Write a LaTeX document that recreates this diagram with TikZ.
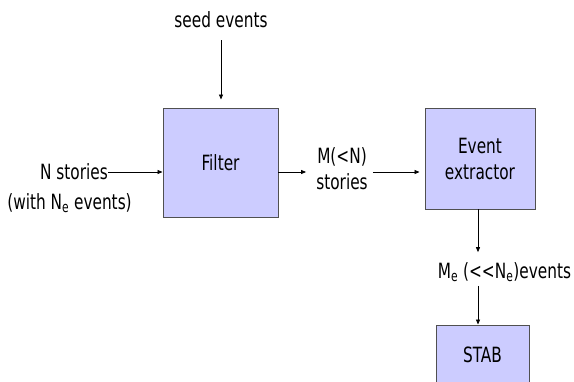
\documentclass[tikz,border=0pt]{standalone}
\usepackage{fontspec}
\setmainfont{DejaVu Sans}[FakeStretch=0.73]
\usetikzlibrary{arrows.meta}

\definecolor{boxfill}{RGB}{204,204,255}
\definecolor{boxline}{RGB}{80,80,80}

\tikzset{
	blk/.style={draw=boxline, fill=boxfill, line width=0.9pt, align=center, inner sep=0pt},
	lbl/.style={inner sep=0pt, align=center},
	arr/.style={-{Triangle[length=5pt,width=4pt]}, line width=0.8pt}}
\tikzset{every picture/.style={font=\fontsize{21}{26}\selectfont}}

\begin{document}
\begin{tikzpicture}[x=1pt,y=1pt,yscale=-1,xscale=1]
	\useasboundingbox (0,0) rectangle (574,381);

	% Blocks
	\node[blk, minimum width=115pt, minimum height=109pt] (filter) at (220.5,162.5) {Filter};
	\node[blk, minimum width=110pt, minimum height=101pt] (extr) at (480,158.5) {Event\\extractor};
	\node[blk, minimum width=93pt, minimum height=60pt] (stab) at (482.5,355) {STAB};

	% Text Nodes
	\node[lbl] (seed) at (221,20) {seed events};
	\node[lbl, anchor=east] (nst) at (108,172) {N stories};
	\node[lbl] (with) at (69.5,203) {(with N\textsubscript{e} events)};
	\node[lbl] (mst) at (342,169) {M(<N)\\stories};
	\node[lbl] (me) at (504.5,272) {M\textsubscript{e} (<{}<N\textsubscript{e})events};

	% Connectors
	\coordinate (xm) at ([xshift=-2pt]extr.south);
	\draw[arr, shorten <=12pt, shorten >=8pt] (seed.south) -- (seed.south |- filter.north);
	\draw[arr] (nst.east) -- (filter.west |- nst.east);
	\draw[arr, shorten >=10pt] ([yshift=3pt]filter.east |- mst.west) -- ([yshift=3pt]mst.west);
	\draw[arr, shorten <=5pt, shorten >=5pt] ([yshift=3pt]mst.east) -- ([yshift=3pt]extr.west |- mst.east);
	\draw[arr, shorten >=10pt] (xm) -- (xm |- me.north);
	\draw[arr, shorten <=4pt] (xm |- me.south) -- (xm |- stab.north);

\end{tikzpicture}
\end{document}
